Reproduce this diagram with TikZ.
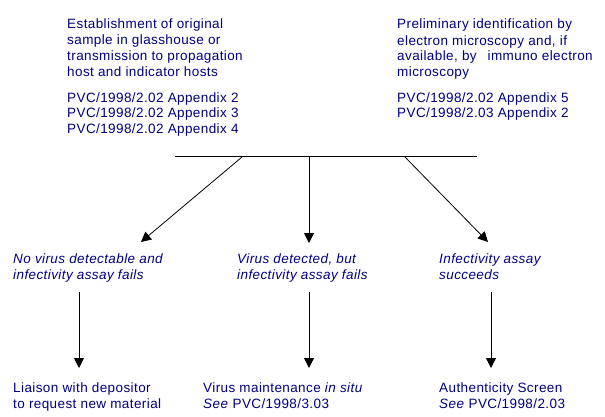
\documentclass[tikz,border=0pt]{standalone}
\usepackage{fontspec}
\setmainfont{Liberation Sans}[LetterSpace=3]
\usetikzlibrary{arrows.meta}
\definecolor{navytext}{RGB}{0,0,128}
\begin{document}
\begin{tikzpicture}[x=1pt,y=-1pt,
  txt/.style={anchor=base west,inner sep=0pt,align=left,text=navytext,
    font=\fontsize{13.5}{16}\selectfont},
  itxt/.style={txt,font=\fontsize{13.5}{16}\selectfont\itshape},
  bar/.style={line width=1pt},
  arr/.style={line width=1pt,-{Triangle[length=10pt,width=10pt]}},
  darr/.style={line width=0.8pt,-{Triangle[length=10pt,width=10pt]}}]
\useasboundingbox (0,0) rectangle (605,417);
% top texts (anchored at the baseline of their last line)
\node[txt] (est) at (67,134) {Establishment of original\\sample in glasshouse or\\transmission to propagation\\host and indicator hosts\\[9pt]PVC/1998/2.02 Appendix 2\\PVC/1998/2.02 Appendix 3\\PVC/1998/2.02 Appendix 4};
\node[txt] (pre) at (397,118) {Preliminary identification by\\electron microscopy and, if\\available, by\hspace{11pt}immuno electron\\microscopy\\[9pt]PVC/1998/2.02 Appendix 5\\PVC/1998/2.03 Appendix 2};
% bar
\coordinate (hL) at (175,157);
\coordinate (hR) at (477,157);
\coordinate (b1) at (242,157);
\coordinate (b2) at (309,157);
\coordinate (b3) at (405,157);
\draw[bar] (hL) -- (hR);
% outcome texts
\node[itxt] (o1) at (13,279) {No virus detectable and\\infectivity assay fails};
\node[itxt] (o2) at (237,279) {Virus detected, but\\infectivity assay fails};
\node[itxt] (o3) at (439,279) {Infectivity assay\\succeeds};
\coordinate (t1) at (141,242);
\coordinate (t2) at (309,243);
\coordinate (t3) at (488,242);
\draw[darr] (b1) -- (t1);
\draw[arr] (b2) -- (t2);
\draw[darr] (b3) -- (t3);
% final texts
\node[txt] (f1) at (13,408) {Liaison with depositor\\to request new material};
\node[txt] (f2) at (203,408) {Virus maintenance \textit{in situ}\\\textit{See} PVC/1998/3.03};
\node[txt] (f3) at (439,408) {Authenticity Screen\\\textit{See} PVC/1998/2.03};
\coordinate (s1) at (79,292);
\coordinate (s2) at (309,292);
\coordinate (s3) at (491,292);
\coordinate (e1) at (79,368);
\coordinate (e2) at (309,368);
\coordinate (e3) at (491,368);
\draw[arr] (s1) -- (e1);
\draw[arr] (s2) -- (e2);
\draw[arr] (s3) -- (e3);
\end{tikzpicture}
\end{document}
